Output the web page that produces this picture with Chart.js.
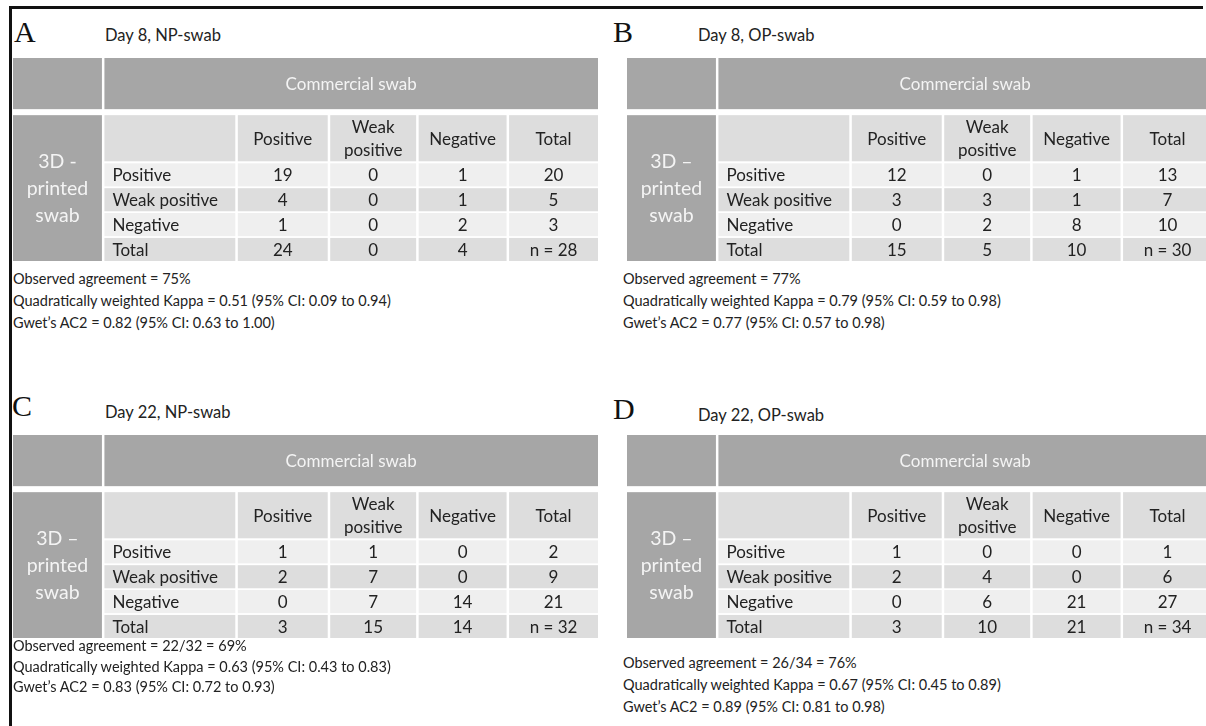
<!DOCTYPE html>
<html>
<head>
<meta charset="utf-8">
<script src="https://cdn.jsdelivr.net/npm/chart.js@4.4.1/dist/chart.umd.min.js"></script>
<style>
  body { margin: 0; width: 1206px; height: 726px; overflow: hidden; position: relative; background: #fff; font-family: Lato, sans-serif; color: #222; }
  .rule { position: absolute; background: #111; }
  .letter { position: absolute; font-family: 'Liberation Serif', serif; font-size: 30px; line-height: 30px; color: #111; }
  .title { position: absolute; font-size: 16.5px; line-height: 20px; white-space: nowrap; }
  .box { position: absolute; width: 585px; height: 203px; }
  .stats { position: absolute; font-size: 14.5px; white-space: nowrap; }
</style>
</head>
<body>
<div class="rule" style="left:9px;top:6px;width:1194px;height:3px"></div>
<div class="rule" style="left:9px;top:6px;width:3px;height:720px"></div>
<div id="page"></div>
<script>
// panel texts
const letters = ['A', 'B', 'C', 'D'];
const titles = ['Day 8, NP-swab', 'Day 8, OP-swab', 'Day 22, NP-swab', 'Day 22, OP-swab'];
const headerText = 'Commercial swab';
const sideLabels = [
  ['3D -', 'printed', 'swab'],
  ['3D \u2013', 'printed', 'swab'],
  ['3D \u2013', 'printed', 'swab'],
  ['3D \u2013', 'printed', 'swab']
];
const colLabels = [['Positive'], ['Weak', 'positive'], ['Negative'], ['Total']];
const rowLabels = ['Positive', 'Weak positive', 'Negative', 'Total'];

// counts: rows = 3D-printed swab result, cols = commercial swab result + total
const countsA = [[19, 0, 1, 20], [4, 0, 1, 5], [1, 0, 2, 3], [24, 0, 4, 28]];
const countsB = [[12, 0, 1, 13], [3, 3, 1, 7], [0, 2, 8, 10], [15, 5, 10, 30]];
const countsC = [[1, 1, 0, 2], [2, 7, 0, 9], [0, 7, 14, 21], [3, 15, 14, 32]];
const countsD = [[1, 0, 0, 1], [2, 4, 0, 6], [0, 6, 21, 27], [3, 10, 21, 34]];

const statsA = ['Observed agreement = 75%', 'Quadratically weighted Kappa = 0.51 (95% CI: 0.09 to 0.94)', 'Gwet\u2019s AC2 = 0.82 (95% CI: 0.63 to 1.00)'];
const statsB = ['Observed agreement = 77%', 'Quadratically weighted Kappa = 0.79 (95% CI: 0.59 to 0.98)', 'Gwet\u2019s AC2 = 0.77 (95% CI: 0.57 to 0.98)'];
const statsC = ['Observed agreement = 22/32 = 69%', 'Quadratically weighted Kappa = 0.63 (95% CI: 0.43 to 0.83)', 'Gwet\u2019s AC2 = 0.83 (95% CI: 0.72 to 0.93)'];
const statsD = ['Observed agreement = 26/34 = 76%', 'Quadratically weighted Kappa = 0.67 (95% CI: 0.45 to 0.89)', 'Gwet\u2019s AC2 = 0.89 (95% CI: 0.81 to 0.98)'];

const allCounts = [countsA, countsB, countsC, countsD];
const allStats = [statsA, statsB, statsC, statsD];

// where each panel's pieces sit on the page
const layout = [
  { letter: [14, 17], title: [105, 25], table: [13, 58], stats: [13, 268], lh: 22 },
  { letter: [613, 17], title: [698, 25], table: [627, 58], stats: [623, 268], lh: 22 },
  { letter: [12, 391], title: [105, 402], table: [13, 435], stats: [13, 636], lh: 20.5 },
  { letter: [613, 394], title: [698, 405], table: [627, 435], stats: [623, 652], lh: 22 }
];

// table grid in scale units (columns: side block, row label, 4 value columns)
const colWidths = [89, 131, 90, 86, 88, 89];
const colGap = 2.5;
const rowHeights = [51, 46, 23, 23, 23, 23];
const rowGaps = [6, 2, 1.8, 1.8, 1.8];

const colEdges = [];
let cx = 0;
colWidths.forEach(w => { colEdges.push([cx, cx + w]); cx += w + colGap; });
const totalW = cx - colGap;
const rowEdges = [];
let ry = 0;
rowHeights.forEach((h, i) => { rowEdges.push([ry, ry + h]); ry += h + (rowGaps[i] || 0); });
const totalH = ry;

const dark = '#a6a6a6';
const mid = '#dddddd';
const light = '#efefef';
const ink = '#222222';
const cellFont = '17px Lato';

const tablePlugin = {
  id: 'crossTable',
  beforeDatasetsDraw(chart) {
    const { ctx, scales: { x, y } } = chart;
    const side = chart.options.plugins.crossTable.side;
    const rect = (c0, c1, r0, r1, color) => {
      const x0 = x.getPixelForValue(colEdges[c0][0]);
      const x1 = x.getPixelForValue(colEdges[c1][1]);
      const y0 = y.getPixelForValue(rowEdges[r0][0]);
      const y1 = y.getPixelForValue(rowEdges[r1][1]);
      ctx.fillStyle = color;
      ctx.fillRect(x0, y0, x1 - x0, y1 - y0);
      return [(x0 + x1) / 2, (y0 + y1) / 2, x0];
    };
    ctx.save();
    ctx.textBaseline = 'middle';
    ctx.textAlign = 'center';
    // top header band
    rect(0, 0, 0, 0, dark);
    const [hx, hy] = rect(1, 5, 0, 0, dark);
    ctx.fillStyle = '#f4f4f4';
    ctx.font = '17px Lato';
    ctx.fillText(headerText, hx, hy + 1);
    // side block
    const [sx, sy] = rect(0, 0, 1, 5, dark);
    ctx.fillStyle = '#f4f4f4';
    ctx.font = '19.5px Lato';
    side.forEach((t, i) => ctx.fillText(t, sx, sy + (i - 1) * 27 + 1));
    // column header row
    rect(1, 1, 1, 1, mid);
    colLabels.forEach((lines, j) => {
      const [mx, my] = rect(j + 2, j + 2, 1, 1, mid);
      ctx.fillStyle = ink;
      ctx.font = cellFont;
      lines.forEach((t, k) => ctx.fillText(t, mx, my + (k - (lines.length - 1) / 2) * 23 + 1));
    });
    // body rows
    rowLabels.forEach((r, i) => {
      const shade = i % 2 === 0 ? light : mid;
      const [, my, x0] = rect(1, 1, i + 2, i + 2, shade);
      for (let j = 0; j < 4; j++) rect(j + 2, j + 2, i + 2, i + 2, shade);
      ctx.fillStyle = ink;
      ctx.textAlign = 'left';
      ctx.font = cellFont;
      ctx.fillText(r, x0 + 8, my + 1);
      ctx.textAlign = 'center';
    });
    ctx.restore();
  },
  afterDatasetsDraw(chart) {
    const { ctx } = chart;
    ctx.save();
    ctx.fillStyle = ink;
    ctx.font = cellFont;
    ctx.textAlign = 'center';
    ctx.textBaseline = 'middle';
    chart.data.datasets.forEach((ds, i) => {
      chart.getDatasetMeta(i).data.forEach((pt, j) => {
        const v = ds.data[j].v;
        const txt = (i === 3 && j === 3) ? 'n = ' + v : String(v);
        ctx.fillText(txt, pt.x, pt.y + 1);
      });
    });
    ctx.restore();
  }
};

const page = document.getElementById('page');
const mid2 = e => (e[0] + e[1]) / 2;

layout.forEach((L, p) => {
  const letter = document.createElement('div');
  letter.className = 'letter';
  letter.style.left = L.letter[0] + 'px';
  letter.style.top = L.letter[1] + 'px';
  letter.textContent = letters[p];
  page.appendChild(letter);

  const title = document.createElement('div');
  title.className = 'title';
  title.style.left = L.title[0] + 'px';
  title.style.top = L.title[1] + 'px';
  title.textContent = titles[p];
  page.appendChild(title);

  const box = document.createElement('div');
  box.className = 'box';
  box.style.left = L.table[0] + 'px';
  box.style.top = L.table[1] + 'px';
  const canvas = document.createElement('canvas');
  box.appendChild(canvas);
  page.appendChild(box);

  const stats = document.createElement('div');
  stats.className = 'stats';
  stats.style.left = L.stats[0] + 'px';
  stats.style.top = L.stats[1] + 'px';
  stats.style.lineHeight = L.lh + 'px';
  stats.innerHTML = allStats[p].join('<br>');
  page.appendChild(stats);

  const counts = allCounts[p];
  new Chart(canvas, {
    type: 'scatter',
    data: {
      datasets: rowLabels.map((r, i) => ({
        label: r,
        data: counts[i].map((v, j) => ({ x: mid2(colEdges[j + 2]), y: mid2(rowEdges[i + 2]), v: v })),
        pointRadius: 0
      }))
    },
    options: {
      responsive: true,
      maintainAspectRatio: false,
      animation: false,
      events: [],
      layout: { padding: 0 },
      scales: {
        x: { type: 'linear', display: false, min: 0, max: totalW },
        y: { type: 'linear', display: false, min: 0, max: totalH, reverse: true }
      },
      plugins: {
        legend: { display: false },
        tooltip: { enabled: false },
        crossTable: { side: sideLabels[p] }
      }
    },
    plugins: [tablePlugin]
  });
});
</script>
</body>
</html>
